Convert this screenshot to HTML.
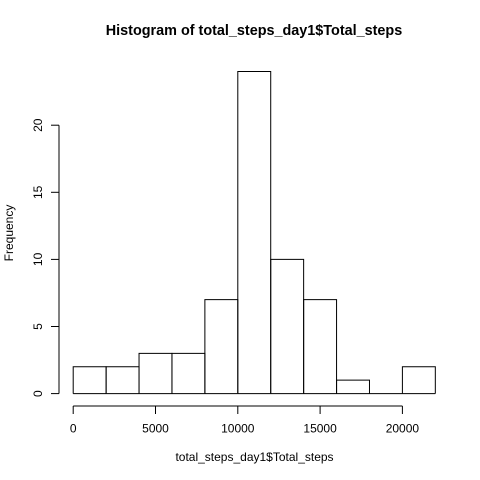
<!DOCTYPE html>
<html>
<head>
<meta charset="utf-8">
<style>
html,body{margin:0;padding:0;background:#fff;}
svg{display:block;}
text{font-family:"Liberation Sans",Arial,sans-serif;font-size:12px;fill:#000;}
</style>
</head>
<body>
<svg id="chart" width="480" height="480" viewBox="0 0 480 480" xmlns="http://www.w3.org/2000/svg"></svg>
<script>
var binEdges = [0, 2000, 4000, 6000, 8000, 10000, 12000, 14000, 16000, 18000, 20000, 22000];
var frequencies = [2, 2, 3, 3, 7, 24, 10, 7, 1, 0, 2];
var xTicks = [0, 5000, 10000, 15000, 20000];
var yTicks = [0, 5, 10, 15, 20];
var titleText = 'Histogram of total_steps_day1$Total_steps';
var xLabelText = 'total_steps_day1$Total_steps';
var yLabelText = 'Frequency';

var svg = document.getElementById('chart');
var NS = 'http://www.w3.org/2000/svg';
function xScale(v) { return 73.2 + v * (402.4 - 73.2) / 20000; }
function yScale(v) { return 393.6 - v * (393.6 - 125.2) / 20; }
function make(tag, attrs) {
  var el = document.createElementNS(NS, tag);
  for (var k in attrs) el.setAttribute(k, attrs[k]);
  svg.appendChild(el);
  return el;
}
var lineStyle = { stroke: '#000', 'stroke-width': 1, fill: 'none' };
function styled(o) { for (var k in lineStyle) o[k] = lineStyle[k]; return o; }

frequencies.forEach(function (f, i) {
  var x0 = xScale(binEdges[i]), x1 = xScale(binEdges[i + 1]), y = yScale(f), base = yScale(0);
  if (f > 0) {
    var r = make('path', styled({ d: 'M' + x0 + ' ' + base + 'V' + y + 'H' + x1 + 'V' + base }));
    
    
  }
  var edge = make('line', styled({ x1: x0, x2: x1, y1: base, y2: base }));
  
  
});

var xAxisY = 406;
var xAxis = make('line', styled({ x1: xScale(xTicks[0]), x2: xScale(xTicks[xTicks.length - 1]), y1: xAxisY, y2: xAxisY }));


xTicks.forEach(function (t) {
  var tick = make('line', styled({ x1: xScale(t), x2: xScale(t), y1: xAxisY, y2: xAxisY + 8 }));
  
  
  var label = make('text', { x: xScale(t), y: 432.5, 'text-anchor': 'middle' });
  label.textContent = String(t);
  
  
});

var yAxisX = 59;
var yAxis = make('line', styled({ x1: yAxisX, x2: yAxisX, y1: yScale(yTicks[0]), y2: yScale(yTicks[yTicks.length - 1]) }));


yTicks.forEach(function (t) {
  var y = yScale(t);
  var tick = make('line', styled({ x1: yAxisX - 8, x2: yAxisX, y1: y, y2: y }));
  
  
  var label = make('text', { x: 42, y: y, 'text-anchor': 'middle', transform: 'rotate(-90 42 ' + y + ')' });
  label.textContent = String(t);
  
  
});

var title = make('text', { x: 254, y: 35, 'text-anchor': 'middle', 'font-weight': 'bold', style: 'font-size:14.4px' });
title.textContent = titleText;



var xLabel = make('text', { x: 254.5, y: 461, 'text-anchor': 'middle' });
xLabel.textContent = xLabelText;



var yLabel = make('text', { x: 13, y: 233, 'text-anchor': 'middle', transform: 'rotate(-90 13 233)' });
yLabel.textContent = yLabelText;


</script>
</body>
</html>
